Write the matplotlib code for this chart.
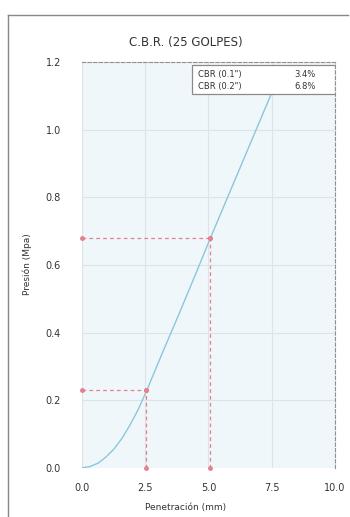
import matplotlib
matplotlib.use("Agg")
import matplotlib.pyplot as plt
from matplotlib.patches import Rectangle
from matplotlib.lines import Line2D

# Data
penetration = [0.0, 0.32, 0.64, 0.95, 1.27, 1.59, 1.91, 2.22, 2.54, 3.18, 3.81, 4.45, 5.08, 6.35, 7.62]
pressure = [0.0, 0.004, 0.014, 0.032, 0.056, 0.088, 0.128, 0.172, 0.225, 0.34, 0.45, 0.565, 0.68, 0.905, 1.13]
ref_pen = [2.54, 5.08]
ref_press = [0.23, 0.68]
legend_labels = ['CBR (0.1")', 'CBR (0.2")']
legend_values = ['3.4%', '6.8%']
xticks = [0.0, 2.5, 5.0, 7.5, 10.0]
yticks = [0.0, 0.2, 0.4, 0.6, 0.8, 1.0, 1.2]

fig = plt.figure(figsize=(3.5, 5.17), dpi=100)
fig.patch.set_facecolor('white')
ax = fig.add_axes([0.234, 0.095, 0.723, 0.785])
ax.set_facecolor('#f0f7fb')

ax.set_xlim(0, 10)
ax.set_ylim(0, 1.2)
ax.set_xticks(xticks)
ax.set_yticks(yticks)
ax.set_xticklabels([f"{v:.1f}" for v in xticks], fontsize=7, color='#333333')
ax.set_yticklabels([f"{v:.1f}" for v in yticks], fontsize=7, color='#333333')
ax.tick_params(axis='x', length=0, pad=11)
ax.tick_params(axis='y', length=0, pad=15)
ax.grid(True, color='#dde4e8', linewidth=0.8)
ax.set_axisbelow(True)

for s in ['left', 'bottom']:
    ax.spines[s].set_visible(False)
for s in ['top', 'right']:
    ax.spines[s].set_linestyle((0, (3, 2)))
    ax.spines[s].set_color('#909090')
    ax.spines[s].set_linewidth(0.8)

ax.plot(penetration, pressure, color='#8cc6dc', linewidth=1.0, zorder=3)

red = '#e58090'
for xp, yp in zip(ref_pen, ref_press):
    ax.plot([0, xp], [yp, yp], color=red, linestyle=(0, (3, 2.5)), linewidth=0.9,
            marker='o', markersize=2.5, zorder=4, clip_on=False)
    ax.plot([xp, xp], [0, yp], color=red, linestyle=(0, (3, 2.5)), linewidth=0.9,
            marker='o', markersize=2.5, zorder=4, clip_on=False)

# Legend box
rect = Rectangle((0.435, 0.921), 0.565, 0.072, transform=ax.transAxes,
                 facecolor='white', edgecolor='#8a8a8a', linewidth=0.9, zorder=5)
ax.add_patch(rect)
for i, (lab, val) in enumerate(zip(legend_labels, legend_values)):
    yy = 0.970 - i * 0.03
    ax.text(0.46, yy, lab, transform=ax.transAxes, fontsize=6, color='#333333',
            va='center', ha='left', zorder=6)
    ax.text(0.925, yy, val, transform=ax.transAxes, fontsize=6, color='#333333',
            va='center', ha='right', zorder=6)

fig.text(0.53, 0.917, 'C.B.R. (25 GOLPES)', fontsize=8.5, ha='center', va='center', color='#333333')
fig.text(0.077, 0.49, 'Presión (Mpa)', fontsize=6.5, rotation=90, ha='center', va='center', color='#333333')
fig.text(0.53, 0.018, 'Penetración (mm)', fontsize=6.5, ha='center', va='center', color='#333333')

# Outer frame
fig.add_artist(Line2D([0.023, 0.023], [0.0, 0.971], transform=fig.transFigure, color='#888888', linewidth=1.0))
fig.add_artist(Line2D([0.023, 0.995], [0.971, 0.971], transform=fig.transFigure, color='#888888', linewidth=1.0))

fig.savefig('out.png', dpi=100)
